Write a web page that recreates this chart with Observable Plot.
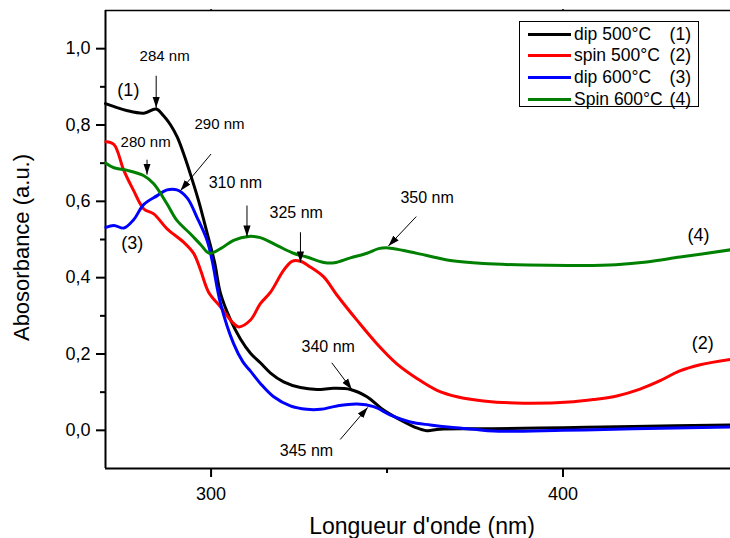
<!DOCTYPE html>
<html>
<head>
<meta charset="utf-8">
<script src="https://cdn.jsdelivr.net/npm/d3@7"></script>
<script src="https://cdn.jsdelivr.net/npm/@observablehq/plot@0.6"></script>
<style>
  html, body { margin: 0; padding: 0; background: #fff; }
  #chart { position: relative; width: 730px; height: 538px; font-family: "Liberation Sans", Arial, sans-serif; }
  #legend {
    position: absolute; left: 519px; top: 21px; width: 178px; height: 84px;
    border: 1px solid #000; background: #fff; box-sizing: content-box;
    font-size: 17.5px; color: #000;
  }
  #legend .row { position: absolute; left: 0; right: 0; height: 20px; display: flex; align-items: center; }
  #legend .swatch { width: 43px; height: 3px; margin-left: 8px; margin-right: 3px; }
  #legend .num { position: absolute; right: 7px; }
</style>
</head>
<body>
<div id="chart"></div>
<script>
// UV-visible absorption spectra of the four films: [wavelength (nm), absorbance (a.u.)]
const dip500 = [
  [270.0, 0.856], [272.5, 0.848], [276.0, 0.838], [280.9, 0.831], [284.4, 0.842],
  [286.5, 0.824], [288.5, 0.800], [290.4, 0.768], [292.3, 0.722], [294.1, 0.672],
  [296.5, 0.600], [298.9, 0.516], [301.0, 0.440], [302.7, 0.358], [305.5, 0.290],
  [308.3, 0.240], [311.2, 0.202], [314.0, 0.177], [316.9, 0.150], [320.6, 0.127],
  [325.4, 0.112], [330.1, 0.107], [334.8, 0.110], [339.6, 0.107], [344.3, 0.088],
  [349.0, 0.053], [353.8, 0.027], [358.0, 0.008], [361.3, -0.001], [365.0, 0.003],
  [380.0, 0.004], [400.0, 0.007], [420.0, 0.010], [447.6, 0.014]
];
const spin500 = [
  [270.1, 0.756], [272.4, 0.749], [275.2, 0.681], [278.0, 0.628], [280.9, 0.580],
  [283.7, 0.567], [287.5, 0.528], [292.2, 0.493], [295.1, 0.463], [297.0, 0.420],
  [299.3, 0.362], [302.7, 0.323], [306.4, 0.280], [307.9, 0.271], [311.2, 0.289],
  [314.0, 0.332], [316.9, 0.362], [320.6, 0.419], [323.0, 0.443], [325.4, 0.443],
  [328.2, 0.428], [332.0, 0.402], [335.8, 0.354], [341.5, 0.288], [347.1, 0.227],
  [352.7, 0.175], [358.5, 0.136], [364.2, 0.105], [369.9, 0.088], [377.4, 0.077],
  [388.8, 0.071], [403.0, 0.075], [409.0, 0.081], [415.3, 0.090], [421.9, 0.108],
  [427.6, 0.130], [433.0, 0.155], [439.0, 0.172], [447.6, 0.186]
];
const dip600 = [
  [270.1, 0.532], [272.4, 0.537], [275.2, 0.530], [278.0, 0.552], [280.9, 0.592],
  [284.7, 0.615], [287.5, 0.630], [290.3, 0.630], [293.2, 0.609], [296.0, 0.558],
  [298.9, 0.497], [300.3, 0.445], [302.7, 0.332], [306.4, 0.227], [309.0, 0.180],
  [311.2, 0.155], [314.0, 0.123], [317.8, 0.088], [322.5, 0.064], [327.2, 0.055],
  [331.1, 0.055], [335.8, 0.064], [341.5, 0.069], [346.2, 0.062], [351.0, 0.040],
  [356.6, 0.022], [362.3, 0.014], [368.0, 0.008], [374.6, 0.003], [380.3, -0.002],
  [400.0, 0.000], [420.0, 0.004], [447.6, 0.009]
];
const spin600 = [
  [270.1, 0.700], [272.4, 0.688], [276.2, 0.681], [280.9, 0.667], [283.7, 0.646],
  [287.5, 0.593], [290.3, 0.550], [294.1, 0.515], [297.0, 0.487], [299.5, 0.464],
  [302.7, 0.476], [306.4, 0.498], [310.7, 0.508], [314.0, 0.505], [318.8, 0.484],
  [323.4, 0.464], [327.2, 0.454], [332.0, 0.440], [335.0, 0.439], [339.6, 0.452],
  [344.3, 0.464], [347.6, 0.476], [350.4, 0.478], [354.7, 0.471], [361.3, 0.458],
  [368.0, 0.445], [377.4, 0.437], [390.0, 0.433], [405.0, 0.432], [415.0, 0.434],
  [423.8, 0.441], [433.3, 0.454], [447.6, 0.473]
];

const seriesNames = ["dip 500°C", "spin 500°C", "dip 600°C", "Spin 600°C"];
const seriesTags = ["(1)", "(2)", "(3)", "(4)"];
const seriesColors = ["#000000", "#ff0000", "#0000ff", "#008000"];
const seriesData = [dip500, spin500, dip600, spin600];

// Peak annotations: label, label position, arrow tail and arrow tip (on the curve)
const peakLabels = ["284 nm", "280 nm", "290 nm", "310 nm", "325 nm", "350 nm", "340 nm", "345 nm"];
const labelSize = [15, 15, 15, 16, 16, 16, 16, 16];
const labelX = [286.8, 281.4, 302.4, 306.9, 324.2, 361.4, 333.3, 327.1];
const labelY = [0.981, 0.754, 0.801, 0.649, 0.571, 0.610, 0.218, -0.054];
const tailX = [284.4, 281.8, 300.0, 310.2, 325.4, 358.3, 334.3, 336.7];
const tailY = [0.929, 0.709, 0.724, 0.589, 0.519, 0.560, 0.177, -0.024];
const tipX = [284.4, 281.8, 291.3, 310.2, 325.4, 350.4, 340.0, 344.5];
const tipY = [0.845, 0.670, 0.628, 0.508, 0.440, 0.483, 0.107, 0.060];

// Curve tags written next to the curves
const tagText = ["(1)", "(3)", "(4)", "(2)"];
const tagX = [276.5, 277.6, 438.5, 439.7];
const tagY = [0.892, 0.490, 0.511, 0.227];

const xDomain = [270, 447.6];
const yDomain = [-0.1, 1.1];
const yMajor = [0, 0.2, 0.4, 0.6, 0.8, 1.0];
const yMinor = [0.1, 0.3, 0.5, 0.7, 0.9];
const xMajor = [300, 400];
const xMinor = [350];

const curves = seriesData.flatMap((pts, i) =>
  pts.map(([wl, a]) => ({series: seriesNames[i], wl, a}))
);
const arrows = peakLabels.map((label, i) => ({
  label, size: labelSize[i], lx: labelX[i], ly: labelY[i], x1: tailX[i], y1: tailY[i], x2: tipX[i], y2: tipY[i]
}));
const tags = tagText.map((t, i) => ({t, x: tagX[i], y: tagY[i]}));

const comma = d => d.toFixed(1).replace(".", ",");

const plot = Plot.plot({
  width: 730,
  height: 538,
  marginLeft: 105,
  marginRight: 0,
  marginTop: 10,
  marginBottom: 70,
  style: {fontFamily: "'Liberation Sans', Arial, sans-serif", fontSize: "18px", background: "#fff", overflow: "visible"},
  x: {domain: xDomain, axis: null},
  y: {domain: yDomain, axis: null},
  color: {domain: seriesNames, range: seriesColors},
  marks: [
    // frame: left, bottom and top edges
    Plot.ruleX([xDomain[0]], {stroke: "#000", strokeWidth: 2}),
    Plot.ruleY([yDomain[0]], {stroke: "#000", strokeWidth: 2}),
    Plot.ruleY([yDomain[1]], {stroke: "#000", strokeWidth: 1.5}),
    // axes
    Plot.axisY(yMajor, {tickSize: 9, tickPadding: 6, tickFormat: comma, strokeWidth: 2, fontSize: 18, label: null}),
    Plot.axisY(yMinor, {tickSize: 5, tickFormat: () => "", strokeWidth: 2, label: null}),
    Plot.axisX(xMajor, {tickSize: 9, tickPadding: 10, strokeWidth: 2, fontSize: 18, label: null}),
    Plot.axisX(xMinor, {tickSize: 5, tickFormat: () => "", strokeWidth: 2, label: null}),
    Plot.axisX(xMajor, {anchor: "top", tickSize: 2, tickFormat: () => "", strokeWidth: 1.5, label: null}),
    // axis titles
    Plot.text(["Longueur d'onde (nm)"], {frameAnchor: "bottom", lineAnchor: "middle", dy: 58, dx: 4, fontSize: 23, text: d => d}),
    Plot.text(["Abosorbance (a.u.)"], {frameAnchor: "left", textAnchor: "middle", lineAnchor: "middle", dx: -84, dy: 8, rotate: -90, fontSize: 22, text: d => d}),
    // spectra
    Plot.line(curves, {x: "wl", y: "a", z: "series", stroke: "series", strokeWidth: 3, curve: "catmull-rom"}),
    // peak annotations
    Plot.link(arrows, {x1: "x1", y1: "y1", x2: "x2", y2: "y2", stroke: "#000", strokeWidth: 1, markerEnd: "arrow"}),
    Plot.text(arrows, {x: "lx", y: "ly", text: "label", fontSize: "size"}),
    Plot.text(tags, {x: "x", y: "y", text: "t", fontSize: 18})
  ]
});

// filled arrowheads for the annotation pointers
d3.select(plot).selectAll("marker").each(function () {
  const m = d3.select(this);
  m.attr("viewBox", "-11 -5 12 10")
    .attr("markerUnits", "userSpaceOnUse")
    .attr("markerWidth", 12)
    .attr("markerHeight", 10)
    .attr("refX", 0).attr("refY", 0)
    .attr("fill", "#000").attr("stroke", "none");
  m.selectAll("*").remove();
  m.append("path").attr("d", "M-11,-3.6L0,0L-11,3.6Z").attr("fill", "#000").attr("stroke", "none");
});

const chart = document.getElementById("chart");
chart.appendChild(plot);

// legend box inside the plot area
const legend = document.createElement("div");
legend.id = "legend";
seriesNames.forEach((name, i) => {
  const row = document.createElement("div");
  row.className = "row";
  row.style.top = (2 + i * 21.7) + "px";
  const sw = document.createElement("span");
  sw.className = "swatch";
  sw.style.background = seriesColors[i];
  const lab = document.createElement("span");
  lab.textContent = name;
  const num = document.createElement("span");
  num.className = "num";
  num.textContent = seriesTags[i];
  row.append(sw, lab, num);
  legend.appendChild(row);
});
chart.appendChild(legend);
</script>
</body>
</html>
